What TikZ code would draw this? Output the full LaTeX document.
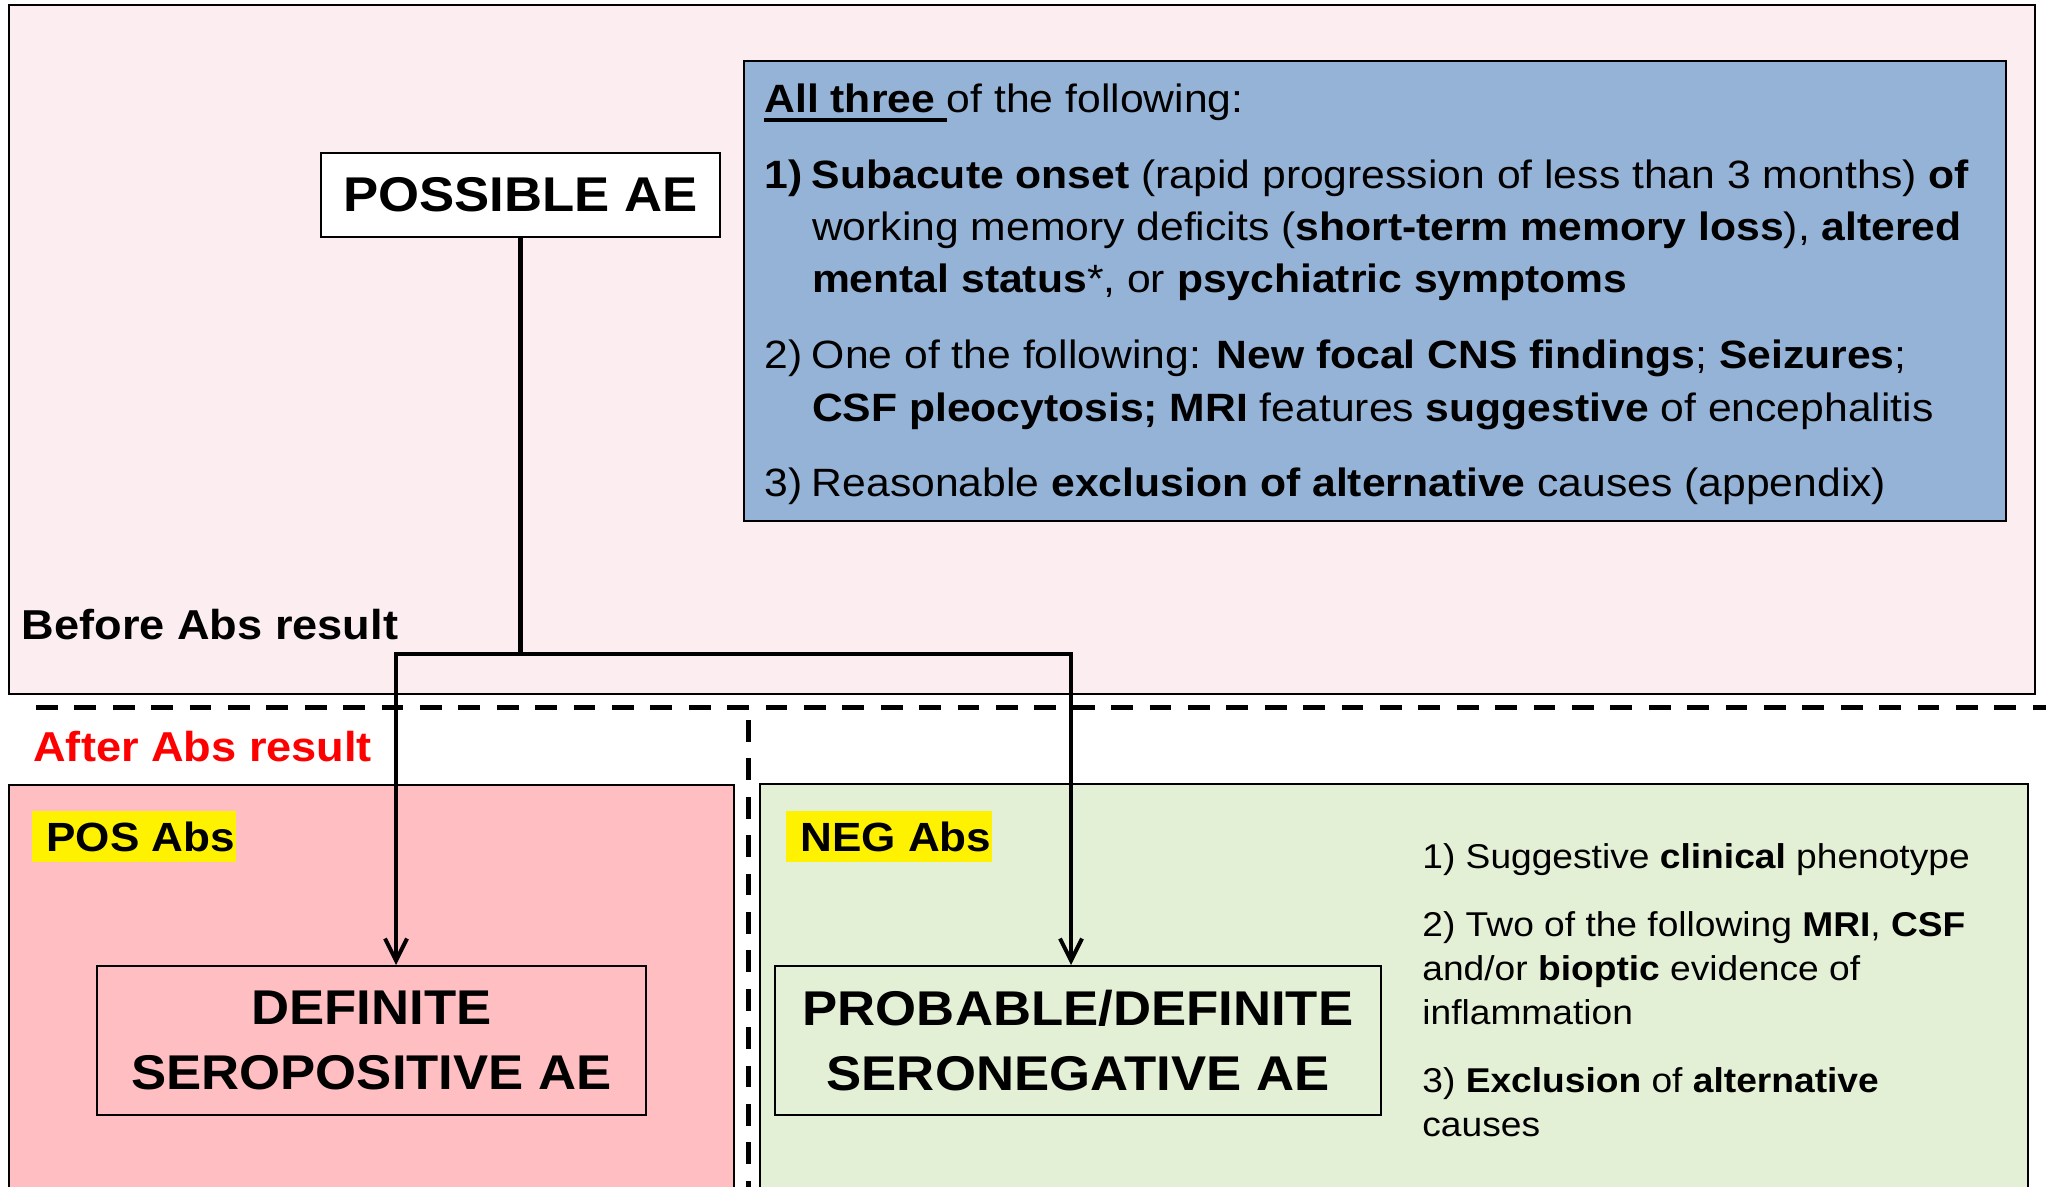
\documentclass[tikz,border=0pt]{standalone}
\usepackage{fontspec}
\setmainfont{Liberation Sans}[FakeStretch=1.08]
\usetikzlibrary{arrows.meta}
\definecolor{beforepink}{HTML}{FCEEF0}
\definecolor{critblue}{HTML}{95B3D7}
\definecolor{pospink}{HTML}{FFBEC2}
\definecolor{neggreen}{HTML}{E3F0D5}
\newcommand\thickul[1]{\setbox0\hbox{#1}\rlap{\rule[-5pt]{\wd0}{2pt}}\box0}
\begin{document}
\begin{tikzpicture}
	[x=0.5pt,y=-0.5pt,
	panel/.style={draw=black,line width=1pt,inner sep=0pt},
	result/.style={draw=black,line width=1pt,inner sep=0pt,align=center,font=\fontsize{24.4}{32.5}\selectfont\bfseries},
	hl/.style={fill=yellow,inner xsep=0pt,inner ysep=0pt,minimum height=25.5pt,anchor=north west,font=\fontsize{20.4}{24}\selectfont\bfseries},
	phase/.style={anchor=base west,inner sep=0pt,font=\fontsize{20.9}{25}\selectfont\bfseries},
	divider/.style={line width=2.5pt,dash pattern=on 10.85pt off 8.35pt},
	link/.style={line width=2.4pt},
	arrowlink/.style={link,{Straight Barb[length=11pt,width=11pt,line width=2pt]}-{Straight Barb[length=11pt,width=11pt,line width=2pt]}}]
	\clip (0,0) rectangle (2046,1187);
	\node[panel,fill=beforepink,minimum width=1013pt,minimum height=344.5pt] (before) at (1022,349.5) {};
	\node[panel,fill=pospink,minimum width=362.75pt,minimum height=207.75pt] (pospanel) at (371.25,992.25) {};
	\node[panel,fill=neggreen,minimum width=634pt,minimum height=208pt] (negpanel) at (1394,992) {};
	\node[panel,fill=critblue,minimum width=631pt,minimum height=230pt] (criteria) at (1375,291) {};
	\draw[divider] (36,707) -- (2046,707);
	\draw[divider] (748,720) -- (748,1195);
	\node[result,fill=white,minimum width=199.5pt,minimum height=42pt] (possible) at (520.5,195) {POSSIBLE AE};
	\node[result,minimum width=274.5pt,minimum height=74.5pt] (definite) at (371.5,1040.5) {DEFINITE\\SEROPOSITIVE AE};
	\node[result,minimum width=303pt,minimum height=74.5pt] (probable) at (1078,1040.5) {PROBABLE/DEFINITE\\SERONEGATIVE AE};
	\node[phase] (beforelabel) at (21.5,639) {Before Abs result};
	\node[phase,text=red] (afterlabel) at (33,761) {After Abs result};
	\node[hl] (posabs) at (32,811) {\hspace*{7pt}POS Abs\hspace*{0.5pt}};
	\node[hl] (negabs) at (786,811) {\hspace*{7pt}NEG Abs\hspace*{0.5pt}};
	\node[anchor=base west,inner sep=0pt,align=left,font=\fontsize{19.75}{26}\selectfont] (criteriatext) at (764,496) {%
		\thickul{\textbf{All three}\ }of the following:\\[12pt]
		\makebox[23.8pt][l]{\textbf{1)}}\textbf{Subacute onset} (rapid progression of less than 3 months) \textbf{of}\\
		\hspace*{23.8pt}working memory deficits (\textbf{short-term memory loss}), \textbf{altered}\\
		\hspace*{23.8pt}\textbf{mental status}*, or \textbf{psychiatric symptoms}\\[12.5pt]
		\makebox[23.8pt][l]{2)}One of the following: \textbf{New focal CNS findings}; \textbf{Seizures};\\
		\hspace*{23.8pt}\textbf{CSF pleocytosis; MRI} features \textbf{suggestive} of encephalitis\\[11.5pt]
		\makebox[23.8pt][l]{3)}Reasonable \textbf{exclusion of alternative} causes (appendix)};
	\node[anchor=base west,inner sep=0pt,align=left,font=\fontsize{17.2}{22}\selectfont] (seronegtext) at (1422,1136) {%
		1) Suggestive \textbf{clinical} phenotype\\[12pt]
		2) Two of the following \textbf{MRI}, \textbf{CSF}\\
		and/or \textbf{bioptic} evidence of\\
		inflammation\\[12pt]
		3) \textbf{Exclusion} of \textbf{alternative}\\
		causes};
	\coordinate (split) at (520.5,654);
	\coordinate (posturn) at (396,654);
	\coordinate (negturn) at (1071,654);
	\draw[link] (possible) -- (split);
	\draw[arrowlink] (posturn |- definite.north) -- (posturn) -- (negturn) -- (negturn |- probable.north);
\end{tikzpicture}
\end{document}
